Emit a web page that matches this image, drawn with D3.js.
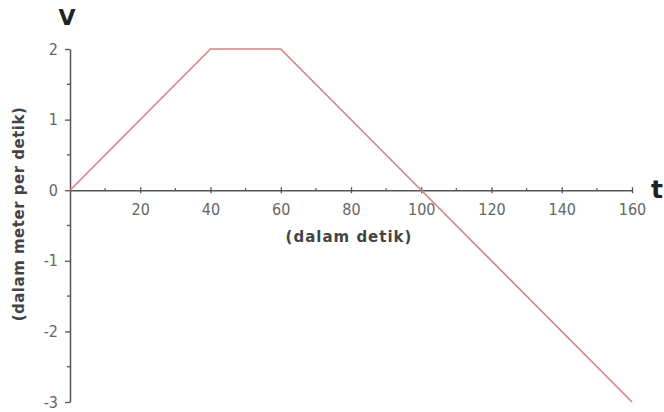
<!DOCTYPE html>
<html>
<head>
<meta charset="utf-8">
<script src="https://cdn.jsdelivr.net/npm/d3@7"></script>
<style>
  body { margin: 0; background: #fff; }
  .tick text { font-family: "DejaVu Sans Condensed", "DejaVu Sans", sans-serif; }
</style>
</head>
<body>
<div id="wrapper"></div>
<script>
// velocity vs time points
const times = [0, 40, 60, 100, 160]
const velocities = [0, 2, 2, 0, -3]
const xTicks = [20, 40, 60, 80, 100, 120, 140, 160]
const yTicks = [-3, -2, -1, 0, 1, 2]

const dataset = times.map((t, i) => ({ t, v: velocities[i] }))

const dimensions = {
  width: 664,
  height: 412,
  margin: { top: 49, right: 32, bottom: 10, left: 70 },
}
dimensions.boundedWidth = dimensions.width - dimensions.margin.left - dimensions.margin.right
dimensions.boundedHeight = dimensions.height - dimensions.margin.top - dimensions.margin.bottom

const wrapper = d3.select("#wrapper")
  .append("svg")
    .attr("width", dimensions.width)
    .attr("height", dimensions.height)

const bounds = wrapper.append("g")
    .attr("transform", `translate(${dimensions.margin.left},${dimensions.margin.top})`)

const xScale = d3.scaleLinear()
  .domain([0, 160])
  .range([0, dimensions.boundedWidth])

const yScale = d3.scaleLinear()
  .domain([-3, 2])
  .range([dimensions.boundedHeight, 0])

const axisColor = "#555"
const plainFormat = d => String(d)

// x axis sits at v = 0
const xAxis = bounds.append("g")
    .attr("transform", `translate(0,${yScale(0)})`)
    .call(d3.axisBottom(xScale).tickValues(xTicks).tickFormat(plainFormat).tickSize(3).tickSizeOuter(0).tickPadding(10))
xAxis.select(".domain").attr("stroke", axisColor).attr("stroke-width", 1.5)
xAxis.selectAll(".tick line").attr("stroke", axisColor).attr("y1", -3).attr("stroke-width", 1.3)
xAxis.selectAll(".tick text").attr("fill", "#666").style("font-size", "16px")

// minor ticks on x
bounds.append("g")
  .selectAll("line")
  .data(d3.range(10, 160, 20))
  .join("line")
    .attr("x1", d => xScale(d))
    .attr("x2", d => xScale(d))
    .attr("y1", yScale(0) - 2)
    .attr("y2", yScale(0))
    .attr("stroke", axisColor)
    .attr("stroke-width", 1.3)

const yAxis = bounds.append("g")
    .call(d3.axisLeft(yScale).tickValues(yTicks).tickFormat(plainFormat).tickSize(5).tickSizeOuter(0).tickPadding(7))
yAxis.select(".domain").attr("stroke", axisColor).attr("stroke-width", 1.5)
yAxis.selectAll(".tick line").attr("stroke", axisColor).attr("stroke-width", 1.3)
yAxis.selectAll(".tick text").attr("fill", "#666").style("font-size", "16px")

// minor ticks on y
bounds.append("g")
  .selectAll("line")
  .data(d3.range(-2.5, 2, 1))
  .join("line")
    .attr("x1", -3)
    .attr("x2", 0)
    .attr("y1", d => yScale(d))
    .attr("y2", d => yScale(d))
    .attr("stroke", axisColor)
    .attr("stroke-width", 1.3)

const lineGenerator = d3.line()
  .x(d => xScale(d.t))
  .y(d => yScale(d.v))

bounds.append("path")
    .attr("d", lineGenerator(dataset))
    .attr("fill", "none")
    .attr("stroke", "#d97f83")
    .attr("stroke-width", 1.6)

// labels
wrapper.append("text")
    .attr("x", 349)
    .attr("y", 242)
    .attr("text-anchor", "middle")
    .attr("fill", "#444")
    .style("font-family", "DejaVu Sans, sans-serif")
    .style("font-weight", "bold")
    .style("font-size", "15px")
    .style("letter-spacing", "1px")
    .text("(dalam detik)")

wrapper.append("text")
    .attr("transform", "translate(24,214) rotate(-90)")
    .attr("text-anchor", "middle")
    .attr("fill", "#444")
    .style("font-family", "DejaVu Sans, sans-serif")
    .style("font-weight", "bold")
    .style("font-size", "15px")
    .style("letter-spacing", "0.5px")
    .text("(dalam meter per detik)")

wrapper.append("text")
    .attr("x", 67)
    .attr("y", 25)
    .attr("text-anchor", "middle")
    .attr("fill", "#222")
    .style("font-family", "DejaVu Sans, sans-serif")
    .style("font-weight", "bold")
    .style("font-size", "22px")
    .text("V")

wrapper.append("text")
    .attr("x", 651)
    .attr("y", 198)
    .attr("fill", "#222")
    .style("font-family", "DejaVu Sans, sans-serif")
    .style("font-weight", "bold")
    .style("font-size", "25px")
    .text("t")
</script>
</body>
</html>
